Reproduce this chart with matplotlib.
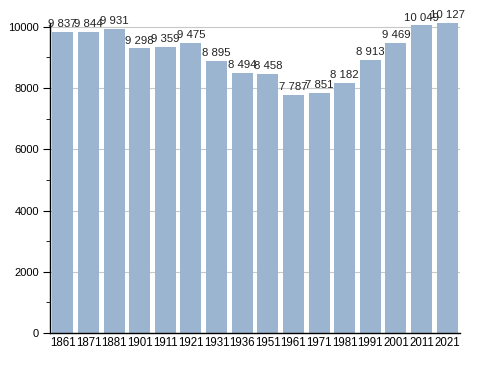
import matplotlib
matplotlib.use("Agg")
import matplotlib.pyplot as plt
from matplotlib.ticker import MultipleLocator

years = ["1861", "1871", "1881", "1901", "1911", "1921", "1931", "1936",
         "1951", "1961", "1971", "1981", "1991", "2001", "2011", "2021"]
population = [9837, 9844, 9931, 9298, 9359, 9475, 8895, 8494,
              8458, 7787, 7851, 8182, 8913, 9469, 10049, 10127]
labels = ["9 837", "9 844", "9 931", "9 298", "9 359", "9 475", "8 895", "8 494",
          "8 458", "7 787", "7 851", "8 182", "8 913", "9 469", "10 049", "10 127"]

plt.rcParams['font.family'] = ['Liberation Sans', 'DejaVu Sans']

fig = plt.figure(figsize=(4.88, 3.73), dpi=100)
ax = fig.add_axes([50/488, 40/373, 410/488, 310/373])

x = list(range(len(years)))
ax.bar(x, population, width=0.82, color="#9bb4cf", zorder=2)
for xi, v, lab in zip(x, population, labels):
    ax.annotate(lab, (xi, v), xytext=(0, 2), textcoords="offset points",
                ha="center", va="bottom", fontsize=8.2, color="#222222", zorder=3)

ax.set_xlim(-0.5, len(years) - 0.5)
ax.set_ylim(0, 10127)
ax.set_xticks(x)
ax.set_xticklabels(years, fontsize=8.3)
ax.tick_params(axis='x', length=0, pad=3)
ax.yaxis.set_major_locator(MultipleLocator(2000))
ax.yaxis.set_minor_locator(MultipleLocator(1000))
ax.tick_params(axis='y', which='major', length=5, labelsize=8, pad=3)
ax.tick_params(axis='y', which='minor', length=3)
ax.grid(axis='y', which='major', color="#c8c8c8", linewidth=0.8, zorder=0)
ax.set_axisbelow(True)
for s in ["top", "right"]:
    ax.spines[s].set_visible(False)
ax.spines["left"].set_linewidth(1)
ax.spines["bottom"].set_linewidth(1)

fig.savefig("out.png", dpi=100)
